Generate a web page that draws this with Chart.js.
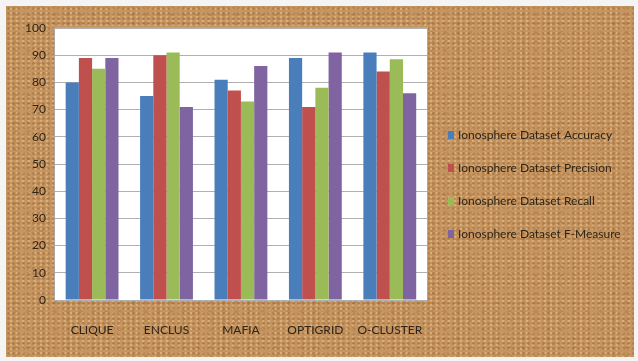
<!DOCTYPE html>
<html>
<head>
<meta charset="utf-8">
<script src="https://cdn.jsdelivr.net/npm/chart.js@4/dist/chart.umd.min.js"></script>
<style>
  html, body { margin: 0; padding: 0; background: #f4f4f4; }
  #frame {
    position: absolute; left: 6px; top: 6px; width: 628px; height: 351px;
    background-color: #c6955f;
    background-image:
      radial-gradient(rgba(130, 78, 35, 0.35) 0.9px, transparent 1.8px),
      radial-gradient(rgba(236, 200, 155, 0.5) 0.9px, transparent 1.8px),
      radial-gradient(rgba(150, 95, 45, 0.25) 1.6px, transparent 2.8px);
    background-size: 5px 5px, 6px 4px, 13px 9px;
    background-position: 0 0, 2px 1px, 3px 4px;
  }
  canvas { display: block; }
</style>
</head>
<body>
<div id="frame"><canvas id="chart" width="628" height="351"></canvas></div>
<script>
/* ---- Data ---------------------------------------------------------------- */

const categories = ["CLIQUE", "ENCLUS", "MAFIA", "OPTIGRID", "O-CLUSTER"];
const accuracy  = [80, 75, 81, 89, 91];
const precision = [89, 90, 77, 71, 84];
const recall    = [85, 91, 73, 78, 88.5];
const fMeasure  = [89, 71, 86, 91, 76];

const seriesLabels = [
  "Ionosphere Dataset Accuracy",
  "Ionosphere Dataset Precision",
  "Ionosphere Dataset Recall",
  "Ionosphere Dataset F-Measure",
];
const seriesColors = ["#4a7ebb", "#c0504d", "#9bbb59", "#8064a2"];

const FONT = "Lato, 'Liberation Sans', sans-serif";
const TEXT = "#2e2418";

/* ---- White plot area ----------------------------------------------------- */

const plotBackground = {
  id: "plotBackground",
  beforeDraw(chart) {
    const { ctx, chartArea: a } = chart;
    ctx.save();
    ctx.fillStyle = "#ffffff";
    ctx.fillRect(a.left, a.top, a.right - a.left, a.bottom - a.top);
    ctx.strokeStyle = "#a9a9a9";
    ctx.lineWidth = 1;
    ctx.strokeRect(a.left - 0.5, a.top - 0.5, a.right - a.left + 1, a.bottom - a.top + 1);
    ctx.restore();
  },
};

/* ---- Legend drawn beside the plot (built-in one gets squeezed) ----------- */

const sideLegend = {
  id: "sideLegend",
  afterDraw(chart) {
    const { ctx, chartArea: a } = chart;
    const x = a.right + 21;
    const y0 = 129;
    const step = 33;
    ctx.save();
    ctx.font = "12px " + FONT;
    ctx.textBaseline = "middle";
    chart.data.datasets.forEach((ds, i) => {
      const y = y0 + i * step;
      ctx.fillStyle = ds.backgroundColor;
      ctx.fillRect(x, y - 4, 6, 8);
      ctx.fillStyle = TEXT;
      ctx.fillText(ds.label, x + 10, y);
    });
    ctx.restore();
  },
};

const datasets = [accuracy, precision, recall, fMeasure].map((values, i) => ({
  label: seriesLabels[i],
  data: values,
  backgroundColor: seriesColors[i],
  borderWidth: 0,
  barPercentage: 1.0,
  categoryPercentage: 0.71,
}));

new Chart(document.getElementById("chart"), {
  type: "bar",
  data: { labels: categories, datasets },
  plugins: [plotBackground, sideLegend],
  options: {
    responsive: false,
    animation: false,
    layout: { padding: { left: 10, top: 22, right: 207, bottom: 0 } },
    plugins: {
      tooltip: { enabled: false },
      legend: { display: false },
    },
    scales: {
      x: {
        grid: { display: false, drawTicks: false },
        border: { display: false },
        afterFit(scale) { scale.height = 57; },
        ticks: {
          color: TEXT,
          padding: 23,
          font: { family: FONT, size: 12 },
          maxRotation: 0,
        },
      },
      y: {
        min: 0,
        max: 100,
        grid: { color: "#b0b0b0", lineWidth: 1, drawTicks: false },
        border: { display: false },
        ticks: {
          stepSize: 10,
          color: TEXT,
          padding: 9,
          font: { family: FONT, size: 12 },
        },
      },
    },
  },
});
</script>
</body>
</html>
